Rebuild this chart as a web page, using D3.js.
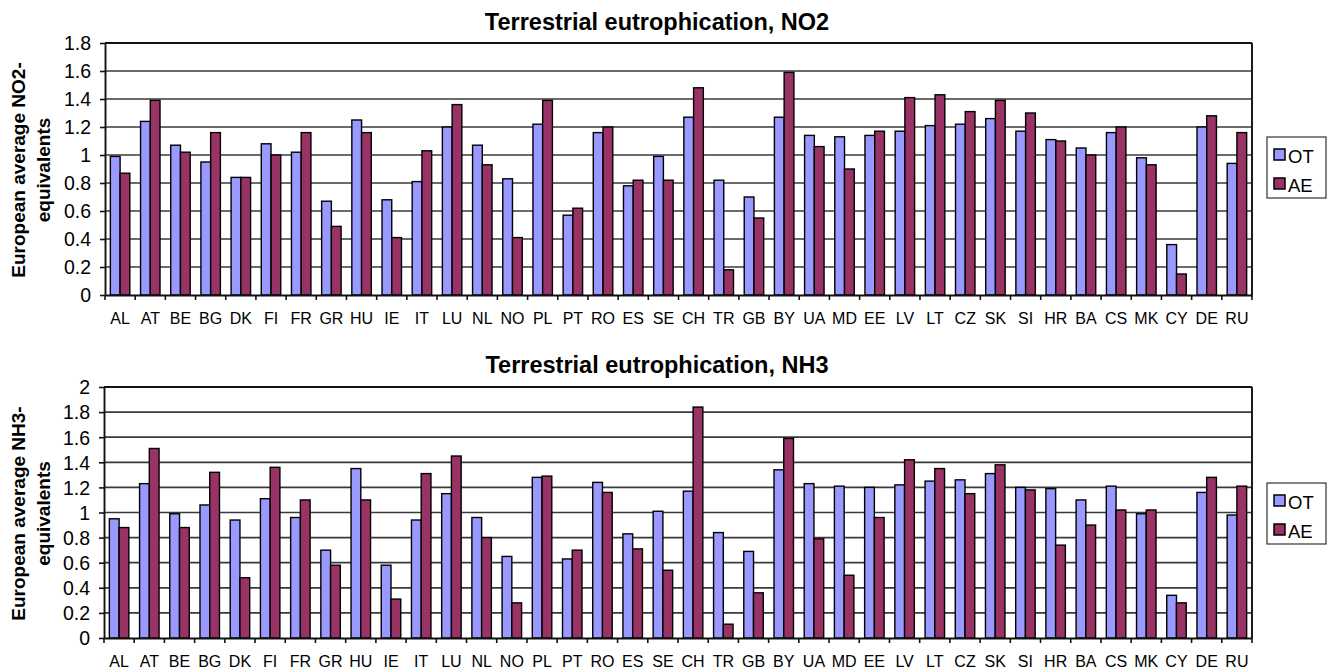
<!DOCTYPE html>
<html><head><meta charset="utf-8">
<script src="https://cdn.jsdelivr.net/npm/d3@7"></script>
<style>body{margin:0;background:#fff;} svg{display:block;font-family:"Liberation Sans",Arial,sans-serif;}</style>
</head><body>
<svg id="c" width="1333" height="672"></svg>
<script>
const countries = ["AL","AT","BE","BG","DK","FI","FR","GR","HU","IE","IT","LU","NL","NO","PL","PT","RO","ES","SE","CH","TR","GB","BY","UA","MD","EE","LV","LT","CZ","SK","SI","HR","BA","CS","MK","CY","DE","RU"];
const seriesNames = ["OT","AE"];
const no2OT = [0.99,1.24,1.07,0.95,0.84,1.08,1.02,0.67,1.25,0.68,0.81,1.20,1.07,0.83,1.22,0.57,1.16,0.78,0.99,1.27,0.82,0.70,1.27,1.14,1.13,1.14,1.17,1.21,1.22,1.26,1.17,1.11,1.05,1.16,0.98,0.36,1.20,0.94];
const no2AE = [0.87,1.39,1.02,1.16,0.84,1.00,1.16,0.49,1.16,0.41,1.03,1.36,0.93,0.41,1.39,0.62,1.20,0.82,0.82,1.48,0.18,0.55,1.59,1.06,0.90,1.17,1.41,1.43,1.31,1.39,1.30,1.10,1.00,1.20,0.93,0.15,1.28,1.16];
const nh3OT = [0.95,1.23,0.99,1.06,0.94,1.11,0.96,0.70,1.35,0.58,0.94,1.15,0.96,0.65,1.28,0.63,1.24,0.83,1.01,1.17,0.84,0.69,1.34,1.23,1.21,1.20,1.22,1.25,1.26,1.31,1.20,1.19,1.10,1.21,0.99,0.34,1.16,0.98];
const nh3AE = [0.88,1.51,0.88,1.32,0.48,1.36,1.10,0.58,1.10,0.31,1.31,1.45,0.80,0.28,1.29,0.70,1.16,0.71,0.54,1.84,0.11,0.36,1.59,0.79,0.50,0.96,1.42,1.35,1.15,1.38,1.18,0.74,0.90,1.02,1.02,0.28,1.28,1.21];
const no2Ticks = ["0","0.2","0.4","0.6","0.8","1","1.2","1.4","1.6","1.8"];
const nh3Ticks = ["0","0.2","0.4","0.6","0.8","1","1.2","1.4","1.6","1.8","2"];
const colors = ["#9999ff","#993366"];

const svg = d3.select("#c");

function panel(cfg){
  const {title, titleY, top, bottom, left, right, ymax, ticks, ot, ae, ylab1, legY} = cfg;
  const g = svg.append("g");
  const x = d3.scaleBand().domain(countries).range([left,right]).paddingInner(0).paddingOuter(0);
  const y = d3.scaleLinear().domain([0,ymax]).range([bottom,top]);
  const tickVals = ticks.map(Number);
  // gridlines
  g.append("g").selectAll("line").data(tickVals.filter(v=>v>0 && v<ymax)).join("line")
    .attr("x1",left).attr("x2",right).attr("y1",d=>y(d)).attr("y2",d=>y(d))
    .attr("stroke","#3a3a3a").attr("stroke-width",1.7);
  // top and right border
  g.append("line").attr("x1",left).attr("x2",right).attr("y1",y(ymax)).attr("y2",y(ymax)).attr("stroke","#111").attr("stroke-width",1.9);
  g.append("line").attr("x1",right).attr("x2",right).attr("y1",y(ymax)).attr("y2",bottom).attr("stroke","#111").attr("stroke-width",1.9);
  // bars
  const inner = d3.scaleBand().domain(seriesNames).range([0,x.bandwidth()]).paddingOuter(0.55).paddingInner(0);
  const data = countries.map((c,i)=>({c, vals:[ot[i],ae[i]]}));
  const grp = g.append("g").selectAll("g").data(data).join("g").attr("transform",d=>`translate(${x(d.c)},0)`);
  grp.selectAll("rect").data(d=>d.vals.map((v,k)=>({v,k}))).join("rect")
    .attr("x",d=>inner(seriesNames[d.k])).attr("width",inner.bandwidth())
    .attr("y",d=>y(d.v)).attr("height",d=>bottom-y(d.v))
    .attr("fill",d=>colors[d.k]).attr("stroke","#000").attr("stroke-width",1.4);
  // y axis
  const ya = d3.axisLeft(y).tickValues(tickVals).tickFormat((d,i)=>ticks[i]).tickSize(5).tickSizeOuter(0);
  const yg = g.append("g").attr("transform",`translate(${left},0)`).call(ya);
  yg.attr("font-family",null).attr("font-size",null);
  yg.select(".domain").attr("stroke","#111").attr("stroke-width",1.9);
  yg.selectAll(".tick line").attr("stroke","#111").attr("stroke-width",1.6);
  yg.selectAll("text").attr("font-size",19.5).attr("fill","#000").attr("x",-14).attr("dy","0.35em");
  // x axis
  const xa = d3.axisBottom(x).tickSize(0).tickSizeOuter(0);
  const xg = g.append("g").attr("transform",`translate(0,${bottom})`).call(xa);
  xg.attr("font-family",null).attr("font-size",null);
  xg.select(".domain").attr("stroke","#111").attr("stroke-width",1.9);
  xg.selectAll("text").attr("font-size",16).attr("fill","#000").attr("y",28.5).attr("dy",0);
  g.append("g").selectAll("line").data(countries.concat(["_end"])).join("line")
    .attr("x1",(d,i)=>left+i*x.step()).attr("x2",(d,i)=>left+i*x.step())
    .attr("y1",bottom).attr("y2",bottom+5).attr("stroke","#111").attr("stroke-width",1.6);
  // title
  g.append("text").attr("x",657).attr("y",titleY).attr("text-anchor","middle")
    .attr("font-size",23.5).attr("font-weight","bold").text(title);
  // y label
  const cy = (top+bottom)/2 + 1;
  const yl = g.append("text").attr("transform",`translate(0,${cy}) rotate(-90)`)
    .attr("text-anchor","middle").attr("font-size",19).attr("font-weight","bold");
  yl.append("tspan").attr("x",0).attr("y",25).text(ylab1);
  yl.append("tspan").attr("x",0).attr("y",50).text("equivalents");
  // legend
  const lg = g.append("g").attr("transform",`translate(1267,${legY})`);
  lg.append("rect").attr("width",59).attr("height",61).attr("fill","#fff").attr("stroke","#333").attr("stroke-width",1.2);
  seriesNames.forEach((s,k)=>{
    lg.append("rect").attr("x",7).attr("y",12+k*29).attr("width",11).attr("height",11)
      .attr("fill",colors[k]).attr("stroke","#000").attr("stroke-width",1.5);
    lg.append("text").attr("x",21).attr("y",25.5+k*29).attr("font-size",18.5).text(s);
  });
}

panel({title:"Terrestrial eutrophication, NO2", titleY:30, top:43, bottom:295, left:105, right:1252, ymax:1.8, ticks:no2Ticks, ot:no2OT, ae:no2AE, ylab1:"European average NO2-", legY:137});
panel({title:"Terrestrial eutrophication, NH3", titleY:373, top:387, bottom:638, left:104, right:1252, ymax:2, ticks:nh3Ticks, ot:nh3OT, ae:nh3AE, ylab1:"European average NH3-", legY:483});
</script>
</body></html>
